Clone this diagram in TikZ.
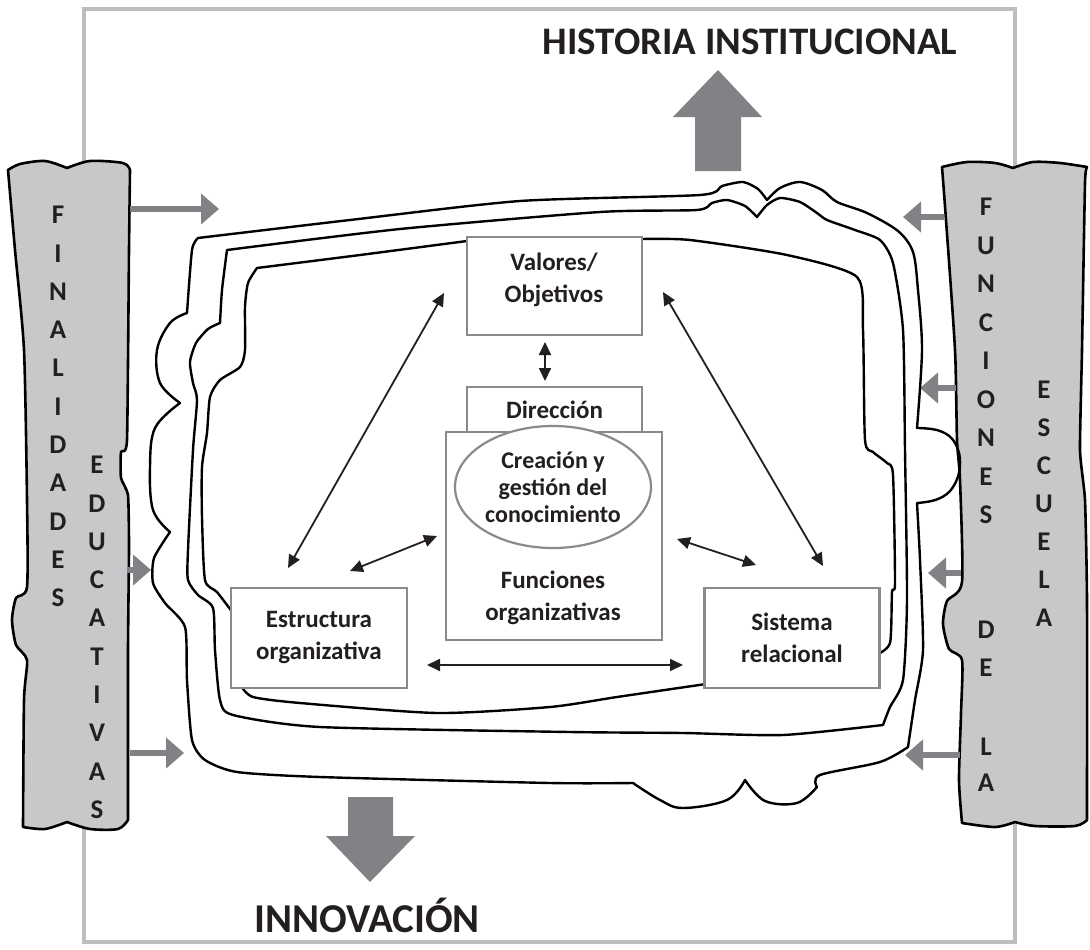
\documentclass[tikz,border=0pt]{standalone}
\usepackage{fontspec}
\setmainfont{Carlito}
\usetikzlibrary{arrows.meta,shapes.geometric}

\definecolor{framegray}{HTML}{BCBEC0}
\definecolor{pillargray}{HTML}{C7C8CA}
\definecolor{arrowgray}{HTML}{808285}
\definecolor{boxgray}{HTML}{8A8A8C}
\definecolor{ink}{HTML}{231F20}

\begin{document}
\begin{tikzpicture}[x=1pt, y=-1pt,
    box/.style={draw=boxgray, line width=2.2pt, fill=white, rectangle, inner sep=0pt},
    lbl/.style={font=\fontsize{25}{32}\selectfont\bfseries, text=ink, align=center, inner sep=0pt},
    blob/.style={draw=black, line width=2.4pt, line join=round},
    pillar/.style={draw=black, fill=pillargray, line width=2.6pt, line join=round},
    letter/.style={font=\fontsize{27}{27}\selectfont\bfseries, text=ink, inner sep=0pt},
    rel/.style={draw=ink, line width=1.8pt, {Triangle[length=13pt,width=12pt]}-{Triangle[length=13pt,width=12pt]}},
    feed/.style={draw=arrowgray, line width=6pt, -{Triangle[length=18pt,width=30pt]}},
    heading/.style={font=\fontsize{39}{39}\selectfont\bfseries, text=ink, inner sep=0pt}]

    \useasboundingbox (0,0) rectangle (1090,950);

    % frame
    \draw[framegray, line width=4pt] (84,9) rectangle (1015,942);

    % big arrows
    \fill[arrowgray] (695,171) -- (695,117) -- (673,117) -- (718,70) -- (762,117) -- (741,117) -- (741,171) -- cycle;
    \fill[arrowgray] (348,797) -- (348,836) -- (326,836) -- (370,882) -- (415,836) -- (393,836) -- (393,797) -- cycle;
    \node[heading, anchor=base] (historia) at (750,55) {HISTORIA INSTITUCIONAL};
    \node[heading, font=\fontsize{41}{41}\selectfont\bfseries, anchor=base] (innovacion) at (367,932) {INNOVACIÓN};

    % pillars
    \draw[pillar] plot[smooth, tension=0.5] coordinates {(8,170) (20,164) (45,161) (67,168)}
        -- plot[smooth, tension=0.5] coordinates {(67,168) (90,161) (123,163) (130,170)}
        -- plot[smooth, tension=0.3] coordinates {(130,170) (129,250) (127,440) (121,452) (121,478) (128,495) (129,547) (128,650) (128,820)}
        -- plot[smooth, tension=0.5] coordinates {(128,820) (118,829) (90,829) (67,822)}
        -- plot[smooth, tension=0.5] coordinates {(67,822) (45,829) (23,827)}
        -- plot[smooth, tension=0.4] coordinates {(23,827) (24,700) (27,660) (16,645) (12,620) (16,598) (27,587) (27,500) (24,350) (15,250) (8,170)} -- cycle;
    \draw[pillar] plot[smooth, tension=0.5] coordinates {(942,167) (967,162) (995,163) (1013,168)}
        -- plot[smooth, tension=0.5] coordinates {(1013,168) (1033,162) (1060,163) (1087,167)}
        -- plot[smooth, tension=0.3] coordinates {(1087,167) (1085,183) (1082,350) (1080,450) (1085,500) (1087,600) (1087,820)}
        -- plot[smooth, tension=0.5] coordinates {(1087,820) (1075,826) (1035,826) (1015,822)}
        -- plot[smooth, tension=0.5] coordinates {(1015,822) (995,827) (962,823)}
        -- plot[smooth, tension=0.4] coordinates {(962,823) (959,780) (961,713) (962,660) (949,649) (943,624) (947,601) (962,582) (960,480) (957,440) (955,350) (946,220) (942,167)} -- cycle;

    \foreach \ch [count=\i from 0] in {F,I,N,A,L,I,D,A,D,E,S}
        \node[letter] (fin\i) at (58,215+38.3*\i) {\ch};
    \foreach \ch [count=\i from 0] in {E,D,U,C,A,T,I,V,A,S}
        \node[letter] (edu\i) at (97,465+38.3*\i) {\ch};
    \foreach \ch [count=\i from 0] in {F,U,N,C,I,O,N,E,S}
        \node[letter] (fun\i) at (986,207+38.5*\i) {\ch};
    \node[letter] (de1) at (986,630) {D};
    \node[letter] (de2) at (986,668) {E};
    \node[letter] (la1) at (986,747) {L};
    \node[letter] (la2) at (986,783) {A};
    \foreach \ch [count=\i from 0] in {E,S,C,U,E,L,A}
        \node[letter] (esc\i) at (1044,390+38*\i) {\ch};

    % feed arrows from the pillars
    \foreach \ya/\xa/\xb in {209/130/219, 570/127/151, 753/130/184}
        \draw[feed] (\xa,\ya) -- (\xb,\ya);
    \foreach \ya/\xa/\xb in {217/944/903, 388/956/920, 573/961/928, 755/960/905}
        \draw[feed] (\xa,\ya) -- (\xb,\ya);

    % outer outline
    \draw[blob] plot[smooth, tension=0.4] coordinates {(198,238) (350,220) (520,201) (700,195) (722,186) (743,182) (758,189) (767,200)}
        -- plot[smooth, tension=0.5] coordinates {(767,200) (780,188) (800,182) (822,190) (837,202) (867,213) (898,231) (913,252) (918,290) (922,350) (917,428)}
        -- plot[smooth, tension=0.7] coordinates {(917,428) (940,431) (955,443) (960,465) (953,487) (938,499) (917,503)}
        -- plot[smooth, tension=0.4] coordinates {(917,503) (920,560) (923,650) (915,700) (908,747)}
        -- plot[smooth, tension=0.5] coordinates {(908,747) (880,762) (820,775) (817,787)}
        -- plot[smooth, tension=0.6] coordinates {(817,787) (797,803) (765,801) (745,780)}
        -- plot[smooth, tension=0.6] coordinates {(745,780) (727,800) (683,808) (660,800) (633,783)}
        -- plot[smooth, tension=0.4] coordinates {(633,783) (550,783) (320,777) (237,772) (205,760) (192,740) (187,680) (185,627) (165,603) (153,583) (154,558) (170,532)}
        -- plot[smooth, tension=0.6] coordinates {(170,532) (153,510) (150,467) (155,428) (180,403)}
        -- plot[smooth, tension=0.6] coordinates {(180,403) (160,383) (157,350) (170,323) (187,313)}
        -- plot[smooth, tension=0.4] coordinates {(187,313) (192,250) (198,238)} -- cycle;

    % middle outline
    \draw[blob] plot[smooth, tension=0.4] coordinates {(227,250) (400,229) (600,212) (697,210) (712,203) (727,200) (745,206) (757,217)}
        -- plot[smooth, tension=0.4] coordinates {(757,217) (767,205) (780,198) (800,202) (817,213) (827,220) (855,230) (880,240) (893,263) (903,330) (905,450) (907,600) (903,680) (890,707) (883,725)}
        -- plot[smooth, tension=0.4] coordinates {(883,725) (783,735) (683,733) (570,732) (320,727) (233,715) (220,700) (215,650) (213,608) (198,595) (188,580) (188,550) (193,450) (197,400) (193,383) (190,362) (196,343) (208,329) (220,323)}
        -- plot[smooth, tension=0.4] coordinates {(220,323) (222,290) (227,250)} -- cycle;

    % inner outline
    \draw[blob] plot[smooth, tension=0.4] coordinates {(257,268) (360,255) (467,241)} -- (642,239)
        -- plot[smooth, tension=0.4] coordinates {(642,239) (690,240) (787,255) (857,277) (863,330) (865,440) (873,452) (887,463) (893,475) (895,583) (892,592) (890,643) (876,655)}
        -- (706,684)
        -- plot[smooth, tension=0.4] coordinates {(706,684) (617,697) (550,707) (437,713) (300,703) (253,697) (241,686)}
        -- (233,613)
        -- plot[smooth, tension=0.4] coordinates {(233,613) (217,592) (205,580) (202,517) (202,467) (207,433) (210,397) (220,380) (240,367) (245,350) (245,307) (248,283) (257,268)} -- cycle;

    % boxes
    \node[box, minimum width=175pt, minimum height=98pt] (valores) at (554.5,286) {};
    \node[lbl] (valorestxt) at (554,280) {Valores/\\Objetivos};
    \node[box, lbl, minimum width=175pt, minimum height=45pt] (direccion) at (554.5,409.5) {Dirección};
    \node[box, minimum width=216pt, minimum height=208pt] (funciones) at (554,536) {};
    \node[draw=boxgray, line width=2.2pt, fill=white, ellipse, inner sep=0pt, minimum width=196pt, minimum height=122pt,
        font=\fontsize{24}{27}\selectfont\bfseries, text=ink, align=center] (conocimiento) at (553,487) {Creación y\\gestión del\\conocimiento};
    \node[lbl] (funcionestxt) at (553,598) {Funciones\\organizativas};
    \node[box, lbl, minimum width=176pt, minimum height=100pt] (estructura) at (319,638) {Estructura\\organizativa};
    \node[box, lbl, minimum width=175pt, minimum height=100pt] (sistema) at (792,638) {Sistema\\relacional};

    % relations
    \coordinate (ev1) at (288,568);
    \coordinate (ev2) at (444,293);
    \coordinate (sv1) at (823,566);
    \coordinate (sv2) at (663,292);
    \coordinate (vd1) at (545,342);
    \coordinate (vd2) at (545,381);
    \coordinate (ef1) at (350,571);
    \coordinate (ef2) at (437,536);
    \coordinate (fs1) at (677,539);
    \coordinate (fs2) at (756,565);
    \coordinate (es1) at (427,665);
    \coordinate (es2) at (683,665);
    \draw[rel] (ev1) -- (ev2);
    \draw[rel] (sv1) -- (sv2);
    \draw[rel] (vd1) -- (vd2);
    \draw[rel] (ef1) -- (ef2);
    \draw[rel] (fs1) -- (fs2);
    \draw[rel] (es1) -- (es2);
\end{tikzpicture}
\end{document}
